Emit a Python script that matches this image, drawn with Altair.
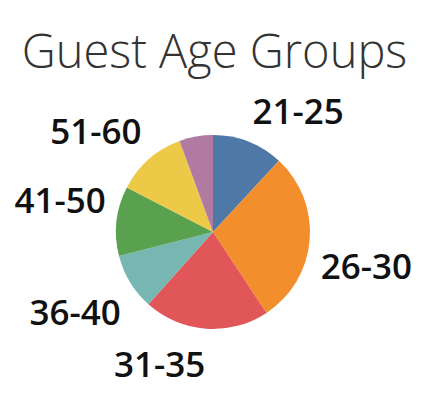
import altair as alt
import pandas as pd

groups = ["21-25", "26-30", "31-35", "36-40", "41-50", "51-60", "61+"]
shares = [11.9, 28.8, 20.9, 9.4, 11.6, 11.8, 5.6]
colors = ["#4e79a7", "#f28e2b", "#e15759", "#76b7b2", "#59a14f", "#edc948", "#b07aa1"]
shown = [True, True, True, True, True, True, False]

df = pd.DataFrame({
    "group": groups,
    "share": shares,
    "idx": list(range(len(groups))),
    "shown": shown,
})

CX, CY = 205, 148
R_LABEL = 108

pie = alt.Chart(df).mark_arc(outerRadius=97, stroke=None).encode(
    theta=alt.Theta("share:Q", stack=True),
    order=alt.Order("idx:O"),
    color=alt.Color("group:N", scale=alt.Scale(domain=groups, range=colors), legend=None),
    x=alt.value(CX), y=alt.value(CY),
)

lab_base = alt.Chart(df).transform_joinaggregate(
    total="sum(share)"
).transform_window(
    cum="sum(share)", sort=[alt.SortField("idx")], frame=[None, 0]
).transform_calculate(
    mid="(datum.cum - datum.share / 2) / datum.total"
).transform_filter("datum.shown")

def label_layer(cond, align, baseline, dy):
    return lab_base.transform_filter(cond).mark_text(
        radius=R_LABEL, font="Open Sans", fontSize=35, fontWeight=600,
        color="#111111", align=align, baseline=baseline, dy=dy,
    ).encode(
        theta=alt.Theta("mid:Q", stack=None, scale=alt.Scale(domain=[0, 1])),
        text="group:N",
        x=alt.value(CX), y=alt.value(CY),
    )

labels = alt.layer(
    label_layer("datum.mid < 0.25", "left", "bottom", 0),
    label_layer("datum.mid >= 0.25 && datum.mid < 0.5", "left", "top", 10),
    label_layer("datum.mid >= 0.5 && datum.mid < 0.75", "right", "top", 9),
    label_layer("datum.mid >= 0.75", "right", "bottom", 0),
)

chart = alt.layer(pie, labels).resolve_scale(theta="independent").properties(
    width=413, height=300,
    title=alt.TitleParams(
        "Guest Age Groups", font="Open Sans", fontSize=47, fontWeight=300,
        color="#333333", anchor="middle", offset=6,
    ),
).configure(
    padding={"top": 22, "left": 0, "right": 0, "bottom": 0}
).configure_view(stroke=None)

chart.save("out.html", embed_options={"renderer": "svg", "actions": False})
